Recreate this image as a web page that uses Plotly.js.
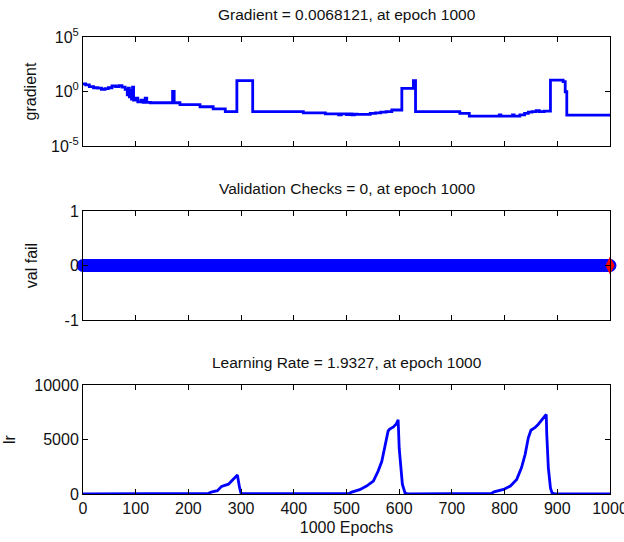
<!DOCTYPE html>
<html>
<head>
<meta charset="utf-8">
<script src="https://cdn.plot.ly/plotly-3.0.1.min.js"></script>
<style>html,body{margin:0;padding:0;background:#fff;}#chart{width:624px;height:542px;}</style>
</head>
<body>
<div id="chart"></div>
<script>
// ---- Gradient (step curve, log scale) ----
const gradEpochs = [0, 5, 12, 20, 28, 35, 42, 48, 55, 62, 68, 74, 80, 84, 86, 88, 90, 92, 94, 96, 100, 104, 110, 114, 118, 121, 128, 170, 173, 184, 222, 247, 270, 292, 322, 418, 460, 485, 490, 500, 505, 510, 515, 520, 545, 555, 565, 575, 586, 605, 627, 631, 715, 733, 790, 793, 815, 818, 829, 838, 845, 852, 860, 866, 875, 887, 911, 915, 918, 1000];
const gradValues = [4.9, 4.0, 2.8, 2.2, 2.0, 1.6, 1.8, 2.2, 3.2, 2.8, 3.5, 2.5, 1.6, 0.5, 2.0, 0.32, 1.26, 0.2, 2.5, 0.16, 0.25, 0.11, 0.16, 0.1, 0.25, 0.1, 0.093, 1.0, 0.093, 0.063, 0.04, 0.025, 0.014, 10, 0.014, 0.011, 0.0089, 0.0071, 0.0089, 0.0076, 0.0089, 0.0071, 0.0083, 0.0079, 0.01, 0.011, 0.0126, 0.014, 0.02, 1.95, 10, 0.014, 0.01, 0.0056, 0.0071, 0.0056, 0.0071, 0.0056, 0.0071, 0.01, 0.0126, 0.014, 0.0178, 0.014, 0.0158, 11.2, 7.9, 0.95, 0.0068121, 0.0068121];

// ---- Validation checks ----
const valEpochs = [0, 1000];
const valFail = [0, 0];
const bestEpoch = [1000];
const bestVal = [0];

// ---- Learning rate ----
const lrEpochs = [0, 238, 245, 255, 263, 270, 276, 282, 290, 293, 297, 300, 505, 510, 525, 538, 551, 560, 567, 573, 579, 582, 589, 594, 598, 600, 603, 606, 611, 615, 775, 780, 798, 811, 823, 832, 839, 845, 850, 858, 864, 871, 879, 880, 883, 887, 890, 895, 1000];
const lrValues = [10, 60, 200, 300, 700, 800, 900, 1200, 1650, 1750, 600, 30, 40, 180, 400, 730, 1190, 2100, 3000, 4250, 5780, 5950, 6150, 6400, 6800, 4200, 2100, 900, 100, 20, 50, 200, 420, 730, 1340, 2400, 3640, 5160, 5850, 6100, 6400, 6850, 7300, 5500, 2400, 550, 100, 20, 1.93];

const titles = ['Gradient = 0.0068121, at epoch 1000', 'Validation Checks = 0, at epoch 1000', 'Learning Rate = 1.9327, at epoch 1000'];
const gradTickVals = [1e-5, 1, 1e5];
const gradTickText = ['10<sup>-5</sup>', '10<sup>0</sup>', '10<sup>5</sup>'];
const valTickVals = [-1, 0, 1];
const valTickText = ['-1', '0', '1'];
const lrTickVals = [0, 5000, 10000];
const lrTickText = ['0', '5000', '10000'];
const epochTicks = [0, 100, 200, 300, 400, 500, 600, 700, 800, 900, 1000];

const blue = '#0000ff';
const fam = '"Liberation Sans", Arial, sans-serif';
const font = {family: fam, size: 15.5, color: '#111'};
const labelFont = {family: fam, size: 16, color: '#111'};
const tickFont = {family: fam, size: 16, color: '#111'};

const traces = [
  {x: gradEpochs, y: gradValues, type: 'scatter', mode: 'lines', line: {color: blue, width: 2.8, shape: 'hv'}, xaxis: 'x', yaxis: 'y', hoverinfo: 'skip'},
  {x: valEpochs, y: valFail, type: 'scatter', mode: 'lines+markers', line: {color: blue, width: 13}, marker: {color: blue, size: 13, symbol: 'circle'}, cliponaxis: false, xaxis: 'x2', yaxis: 'y2', hoverinfo: 'skip'},
  {x: bestEpoch, y: bestVal, type: 'scatter', mode: 'markers', marker: {color: '#ff0000', size: 13, symbol: 'diamond-tall', line: {width: 0}}, cliponaxis: false, xaxis: 'x2', yaxis: 'y2', hoverinfo: 'skip'},
  {x: lrEpochs, y: lrValues, type: 'scatter', mode: 'lines', line: {color: blue, width: 2.8}, xaxis: 'x3', yaxis: 'y3', hoverinfo: 'skip'}
];

function xax(anchor, labels) {
  return {anchor: anchor, domain: [0, 1], range: [0, 1000], tickvals: epochTicks, ticks: 'inside', ticklen: 5, tickcolor: '#000',
    showline: true, linecolor: '#000', linewidth: 1, mirror: 'ticks', showgrid: false, zeroline: false,
    showticklabels: labels, tickfont: tickFont, ticklabeloverflow: 'allow'};
}
function yax(anchor, domain, extra) {
  return Object.assign({anchor: anchor, domain: domain, ticks: 'inside', ticklen: 5, tickcolor: '#000',
    showline: true, linecolor: '#000', linewidth: 1, mirror: 'ticks', showgrid: false, zeroline: false, tickfont: tickFont, automargin: false}, extra);
}

const doms = [[0.7615, 1], [0.3807, 0.6193], [0, 0.2385]];

const layout = {
  width: 624, height: 542, margin: {l: 83, r: 14, t: 37, b: 48}, paper_bgcolor: '#fff', plot_bgcolor: '#fff',
  showlegend: false, font: font,
  xaxis: xax('y', false),
  xaxis2: xax('y2', false),
  xaxis3: Object.assign(xax('y3', true), {title: {text: '1000 Epochs', font: labelFont, standoff: 5}}),
  yaxis: yax('x', doms[0], {type: 'log', range: [-5, 5], tickvals: gradTickVals, ticktext: gradTickText, title: {text: 'gradient', font: labelFont, standoff: 10}}),
  yaxis2: yax('x2', doms[1], {range: [-1, 1], tickvals: valTickVals, ticktext: valTickText, title: {text: 'val fail', font: labelFont, standoff: 22}}),
  yaxis3: yax('x3', doms[2], {range: [0, 10000], tickvals: lrTickVals, ticktext: lrTickText, title: {text: 'lr', font: labelFont, standoff: 14}}),
  annotations: titles.map((t, i) => ({text: t, xref: 'paper', yref: 'paper', x: 0.5, y: doms[i][1], xanchor: 'center', yanchor: 'bottom', yshift: 12, showarrow: false, font: font}))
};

Plotly.newPlot('chart', traces, layout, {staticPlot: true, displayModeBar: false});
</script>
</body>
</html>
